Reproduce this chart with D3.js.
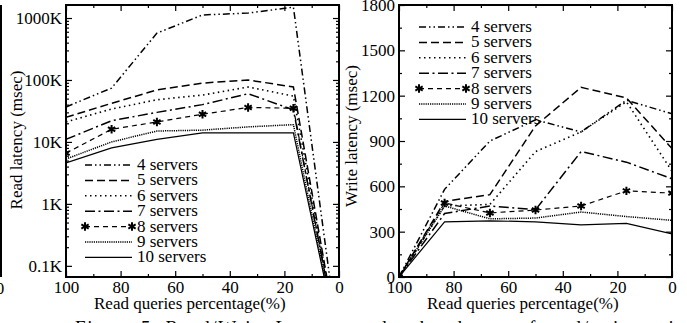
<!DOCTYPE html>
<html>
<head>
<meta charset="utf-8">
<script src="https://cdn.jsdelivr.net/npm/d3@7"></script>
<style>
  body { margin: 0; background: #fff; }
  svg { display: block; font-family: "Liberation Serif", "Times New Roman", serif; }
  text { fill: #000; }
</style>
</head>
<body>
<svg id="chart" width="687" height="323"></svg>
<script>
// read-queries percentage for each point
var readPct = [100, 83.3, 66.7, 50, 33.3, 16.7, 0];
var seriesNames = ["4 servers", "5 servers", "6 servers", "7 servers", "8 servers", "9 servers", "10 servers"];

// read latency, msec (log axis)
var read4  = [36700, 74000, 570000, 1120000, 1200000, 1500000, 5];
var read5  = [25000, 42000, 69000, 89000, 100000, 77000, 5];
var read6  = [21000, 34000, 48000, 57000, 77000, 55000, 5];
var read7  = [11000, 22000, 30000, 40000, 60000, 33000, 5];
var read8  = [6600, 16000, 21000, 28000, 36000, 35000, 5];
var read9  = [5300, 10000, 15000, 15500, 17500, 19000, 5];
var read10 = [4600, 8000, 11000, 14000, 14000, 14000, 5];

// write latency, msec
var write4  = [0, 580, 900, 1040, 960, 1170, 1080];
var write5  = [0, 500, 545, 1000, 1255, 1185, 850];
var write6  = [0, 470, 480, 830, 960, 1160, 700];
var write7  = [0, 420, 470, 445, 830, 760, 650];
var write8  = [0, 490, 424, 443, 470, 570, 555];
var write9  = [0, 470, 385, 390, 430, 400, 375];
var write10 = [0, 365, 372, 365, 345, 355, 285];

var readTicks = [100, 1000, 10000, 100000, 1000000];
var readTickLabels = ["0.1K", "1K", "10K", "100K", "1000K"];
var writeTicks = [0, 300, 600, 900, 1200, 1500, 1800];
var pctTicks = [100, 80, 60, 40, 20, 0];

var dashes = ["7,3,1.5,3,1.5,3", "8,4", "1.5,3.5", "10,3.5,2,3.5", "5,4", "1.2,1", null];
var widths = [1.5, 1.5, 1.6, 1.5, 1.2, 1.5, 1.2];
var fs = "17px";

var svg = d3.select("#chart");

function drawPanel(opts) {
  var g = svg.append("g");
  var x = d3.scaleLinear().domain([100, 0]).range([opts.x0, opts.x1]);
  var y = opts.y;
  var id = "clip" + opts.x0;
  svg.append("clipPath").attr("id", id).append("rect")
     .attr("x", opts.x0).attr("y", 5).attr("width", opts.x1 - opts.x0).attr("height", 272);

  // ticks, all pointing inward
  var bottom = d3.axisBottom(x).tickValues(pctTicks).tickSize(-6).tickPadding(4).tickFormat(d3.format("d"));
  g.append("g").attr("transform", "translate(0,277)").call(bottom)
   .call(a => { a.select(".domain").remove(); a.selectAll("text").style("font-size", fs).style("font-family", "Liberation Serif"); });
  g.append("g").attr("transform", "translate(0,277)")
   .call(d3.axisBottom(x).tickValues(d3.range(10, 100, 20)).tickSize(-3).tickFormat(""))
   .select(".domain").remove();
  g.append("g").attr("transform", "translate(0,5)")
   .call(d3.axisTop(x).tickValues(pctTicks).tickSize(-6).tickFormat(""))
   .select(".domain").remove();
  g.append("g").attr("transform", "translate(0,5)")
   .call(d3.axisTop(x).tickValues(d3.range(10, 100, 20)).tickSize(-3).tickFormat(""))
   .select(".domain").remove();

  var left = d3.axisLeft(y).tickValues(opts.ticks).tickSize(-6).tickPadding(4).tickFormat((d, i) => opts.labels[i]);
  g.append("g").attr("transform", "translate(" + opts.x0 + ",0)").call(left)
   .call(a => { a.select(".domain").remove(); a.selectAll("text").style("font-size", fs).style("font-family", "Liberation Serif"); });
  g.append("g").attr("transform", "translate(" + opts.x0 + ",0)")
   .call(d3.axisLeft(y).tickValues(opts.minor).tickSize(-3).tickFormat(""))
   .select(".domain").remove();
  g.append("g").attr("transform", "translate(" + opts.x1 + ",0)")
   .call(d3.axisRight(y).tickValues(opts.ticks).tickSize(-6).tickFormat(""))
   .select(".domain").remove();
  g.append("g").attr("transform", "translate(" + opts.x1 + ",0)")
   .call(d3.axisRight(y).tickValues(opts.minor).tickSize(-3).tickFormat(""))
   .select(".domain").remove();
  g.selectAll(".tick line").attr("stroke", "#000").attr("stroke-width", 1.2);

  g.append("rect").attr("x", opts.x0).attr("y", 5).attr("width", opts.x1 - opts.x0).attr("height", 272)
   .attr("fill", "none").attr("stroke", "#000").attr("stroke-width", 2);

  // lines
  var line = d3.line().x((d, i) => x(readPct[i])).y(d => y(d));
  var lines = g.append("g").attr("clip-path", "url(#" + id + ")");
  opts.series.forEach((s, k) => {
    lines.append("path").attr("d", line(s)).attr("fill", "none").attr("stroke", "#000")
      .attr("stroke-width", widths[k])
      .attr("stroke-dasharray", dashes[k]);
  });
  var star = d3.symbol().type(d3.symbolAsterisk).size(50);
  lines.selectAll(".star").data(opts.series[4].slice(0, opts.starCount)).enter()
    .append("path").attr("class", "star").attr("d", star)
    .attr("transform", (d, i) => "translate(" + x(readPct[i]) + "," + y(d) + ")")
    .attr("fill", "none").attr("stroke", "#000").attr("stroke-width", 2);

  // legend
  var lg = g.append("g");
  seriesNames.forEach((n, k) => {
    var yy = opts.legY + k * 15.4;
    lg.append("line").attr("x1", opts.legX).attr("x2", opts.legX + 47).attr("y1", yy).attr("y2", yy)
      .attr("stroke", "#000").attr("stroke-width", widths[k])
      .attr("stroke-dasharray", dashes[k]);
    if (k == 4) {
      [opts.legX, opts.legX + 47].forEach(px => lg.append("path").attr("d", star)
        .attr("transform", "translate(" + px + "," + yy + ")")
        .attr("fill", "none").attr("stroke", "#000").attr("stroke-width", 2));
    }
    lg.append("text").attr("x", opts.legX + 52).attr("y", yy + 5).style("font-size", fs).text(n);
  });

  // axis labels
  g.append("text").attr("x", opts.xLabelX).attr("y", 309).style("font-size", fs).text("Read queries percentage(%)");
  g.append("text").attr("transform", "translate(" + opts.yLabelX + "," + opts.yLabelY + ") rotate(-90)")
   .attr("text-anchor", "middle").style("font-size", fs).text(opts.yLabel);
}

// left: read latency
var yRead = d3.scaleLog().domain([Math.pow(10, 1.82), Math.pow(10, 6.21)]).range([277, 5]);
var readMinor = [];
[100, 1000, 10000, 100000, 1000000].forEach(b => d3.range(2, 10).forEach(m => {
  if (b * m <= Math.pow(10, 6.21)) readMinor.push(b * m);
}));
drawPanel({
  x0: 66, x1: 339, y: yRead, ticks: readTicks, labels: readTickLabels, minor: readMinor,
  series: [read4, read5, read6, read7, read8, read9, read10], starCount: 6,
  legX: 85, legY: 165, xLabelX: 94, yLabelX: 22, yLabelY: 140, yLabel: "Read latency (msec)"
});

// right: write latency
var yWrite = d3.scaleLinear().domain([0, 1800]).range([277, 5]);
drawPanel({
  x0: 399, x1: 672, y: yWrite, ticks: writeTicks, labels: writeTicks.map(String),
  minor: d3.range(150, 1800, 300),
  series: [write4, write5, write6, write7, write8, write9, write10], starCount: 7,
  legX: 419, legY: 27, xLabelX: 427, yLabelX: 357, yLabelY: 136, yLabel: "Write latency (msec)"
});

// edge of the neighbouring figure and caption
svg.append("line").attr("x1", 1).attr("x2", 1).attr("y1", 5).attr("y2", 277).attr("stroke", "#000").attr("stroke-width", 2);
svg.append("text").attr("x", 0).attr("y", 294).attr("text-anchor", "middle").style("font-size", fs).text("0");
svg.append("text").attr("x", 75).attr("y", 334).style("font-size", "19px")
   .attr("textLength", 610).text("Figure 5:  Read/Write Latency under the change of read/write ratio");
</script>
</body>
</html>
